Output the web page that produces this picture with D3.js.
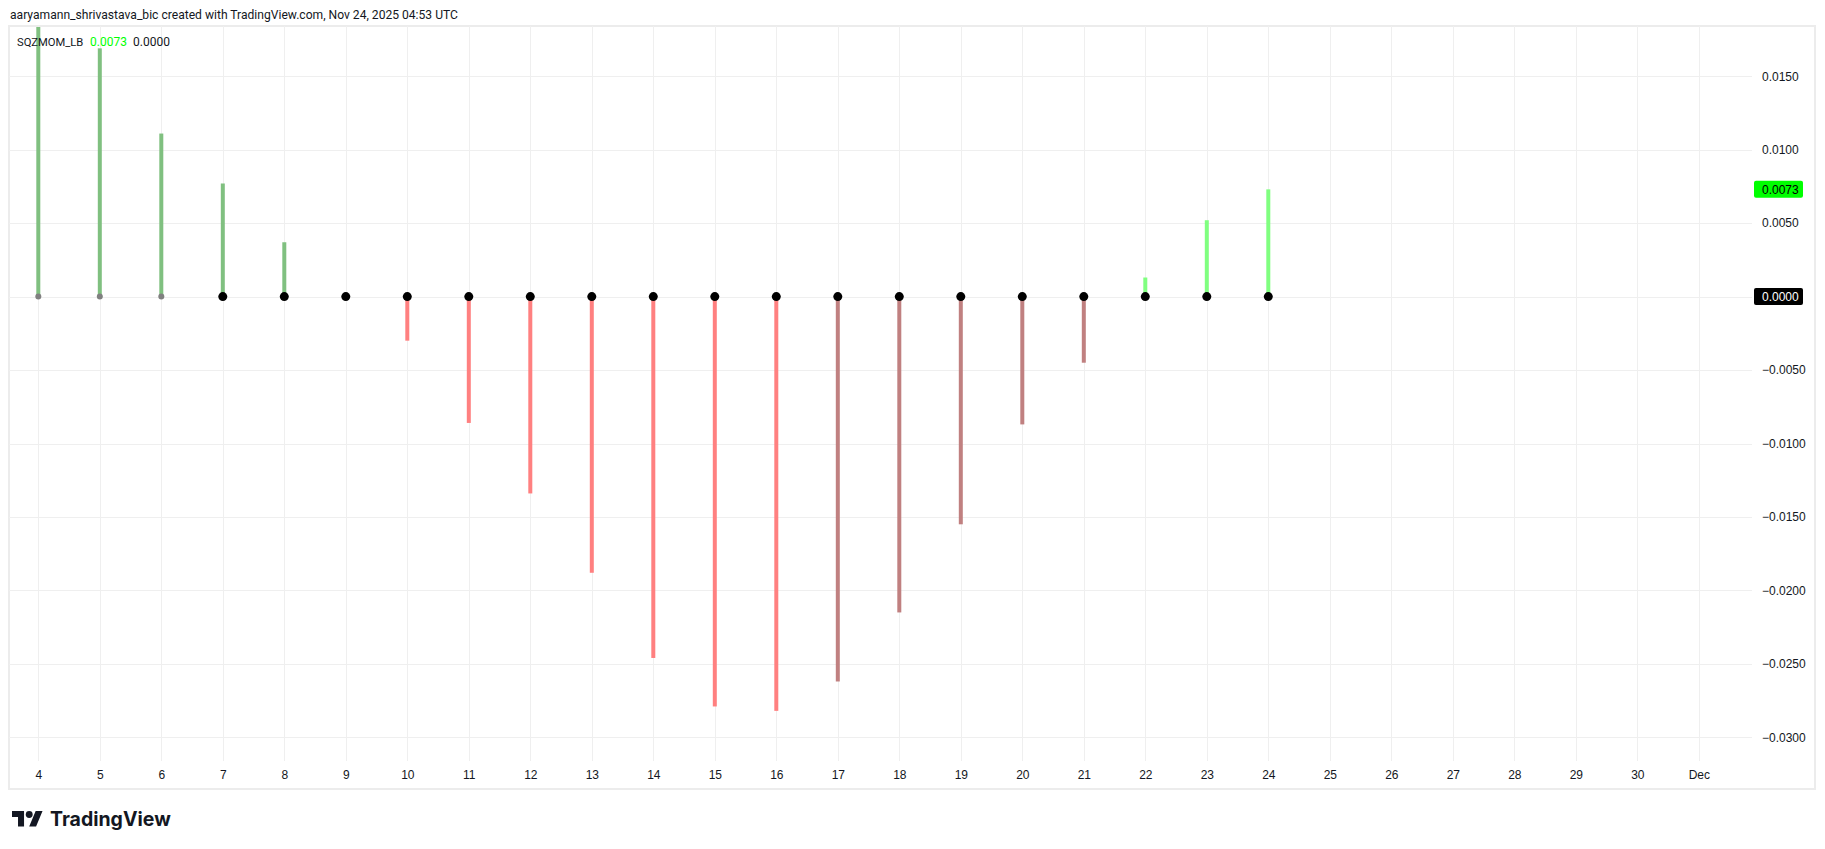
<!DOCTYPE html>
<html>
<head>
<meta charset="utf-8">
<script src="https://cdn.jsdelivr.net/npm/d3@7"></script>
<style>
  html, body { margin: 0; padding: 0; background: #ffffff; }
  svg { display: block; }
</style>
</head>
<body>
<svg id="chart" width="1825" height="849"></svg>
<script>
// ---- data ----
const dayLabels = ["4","5","6","7","8","9","10","11","12","13","14","15","16","17","18","19","20","21","22","23","24","25","26","27","28","29","30","Dec"];
const barDays   = ["4","5","6","7","8","9","10","11","12","13","14","15","16","17","18","19","20","21","22","23","24"];
const momentum  = [0.0188, 0.0169, 0.0111, 0.0077, 0.0037, 0.0000, -0.0030, -0.0086, -0.0134, -0.0188, -0.0246, -0.0279, -0.0282, -0.0262, -0.0215, -0.0155, -0.0087, -0.0045, 0.0013, 0.0052, 0.0073];
const barState  = ["green","green","green","green","green","red","red","red","red","red","red","red","red","maroon","maroon","maroon","maroon","maroon","lime","lime","lime"];
const sqzState  = ["off","off","off","on","on","on","on","on","on","on","on","on","on","on","on","on","on","on","on","on","on"];
const priceTicks = [0.015, 0.010, 0.005, 0.000, -0.005, -0.010, -0.015, -0.020, -0.025, -0.030];
const lastValue = 0.0073;
const zeroValue = 0.0000;
const headerText = "aaryamann_shrivastava_bic created with TradingView.com, Nov 24, 2025 04:53 UTC";
const indicatorName = "SQZMOM_LB";

// ---- styles ----
const barColors = { green: "#80c080", red: "#ff8080", maroon: "#c08080", lime: "#80ff80" };
const dotColors = { off: "#808080", on: "#000000" };
const dotRadius = { off: 3, on: 4.5 };
const gridColor = "#efefef";
const borderColor = "#ececec";
const textColor = "#131722";
const uiFont = "Roboto, 'Liberation Sans', sans-serif";
const axisFont = "'Liberation Sans', Arial, sans-serif";

// ---- layout ----
const pane = { left: 9, right: 1752, top: 26, bottom: 761 };
const frame = { left: 9, right: 1815, top: 26, bottom: 789 };

const svg = d3.select("#chart");

const x = d3.scalePoint().domain(dayLabels).range([38.3, 1698.8]);
const y = d3.scaleLinear().domain([-0.031613, 0.018421]).range([pane.bottom, pane.top]);

// header
svg.append("text")
  .attr("x", 10).attr("y", 19)
  .attr("font-family", uiFont).attr("font-size", 12.1)
  .attr("fill", textColor)
  .text(headerText);

// frame
svg.append("rect")
  .attr("x", frame.left).attr("y", frame.top)
  .attr("width", frame.right - frame.left).attr("height", frame.bottom - frame.top)
  .attr("fill", "none").attr("stroke", borderColor).attr("stroke-width", 2);

// gridlines
const grid = svg.append("g");
grid.selectAll("line.h").data(priceTicks).join("line")
  .attr("x1", pane.left).attr("x2", pane.right)
  .attr("y1", d => Math.round(y(d)) + 0.5).attr("y2", d => Math.round(y(d)) + 0.5)
  .attr("stroke", gridColor).attr("stroke-width", 1);
grid.selectAll("line.v").data(dayLabels).join("line")
  .attr("x1", d => Math.round(x(d)) + 0.5).attr("x2", d => Math.round(x(d)) + 0.5)
  .attr("y1", pane.top).attr("y2", pane.bottom)
  .attr("stroke", gridColor).attr("stroke-width", 1);

// clip for pane
svg.append("defs").append("clipPath").attr("id", "paneClip")
  .append("rect").attr("x", pane.left).attr("y", pane.top + 1)
  .attr("width", pane.right - pane.left).attr("height", pane.bottom - pane.top - 1);

const barsData = barDays.map((d, i) => ({ day: d, v: momentum[i], state: barState[i], sqz: sqzState[i] }));

const plot = svg.append("g").attr("clip-path", "url(#paneClip)");
plot.selectAll("rect.bar").data(barsData.filter(d => d.v !== 0)).join("rect")
  .attr("class", "bar")
  .attr("x", d => x(d.day) - 2)
  .attr("width", 4)
  .attr("y", d => Math.min(y(d.v), y(0)))
  .attr("height", d => Math.abs(y(d.v) - y(0)))
  .attr("fill", d => barColors[d.state]);

plot.selectAll("circle.dot").data(barsData).join("circle")
  .attr("class", "dot")
  .attr("cx", d => x(d.day))
  .attr("cy", y(0))
  .attr("r", d => dotRadius[d.sqz])
  .attr("fill", d => dotColors[d.sqz]);

// legend
const fmt = d3.format(".4f");
const legend = svg.append("g").attr("font-family", uiFont).attr("font-size", 12);
legend.append("text").attr("x", 17).attr("y", 46).attr("fill", textColor)
  .attr("font-size", 11.2).text(indicatorName);
legend.append("text").attr("x", 90).attr("y", 46).attr("fill", "#00ff00").text(fmt(lastValue));
legend.append("text").attr("x", 133).attr("y", 46).attr("fill", textColor).text(fmt(zeroValue));

// price axis
const yAxis = d3.axisRight(y)
  .tickValues(priceTicks.filter(d => d !== 0))
  .tickFormat(fmt)
  .tickSize(0).tickPadding(10);
const yG = svg.append("g").attr("transform", `translate(${pane.right},0)`).call(yAxis);
yG.select(".domain").remove();
yG.selectAll("text").attr("font-family", axisFont).attr("font-size", 12).attr("fill", textColor);

// time axis
const xAxis = d3.axisBottom(x).tickSize(0).tickPadding(9);
const xG = svg.append("g").attr("transform", `translate(0,${pane.bottom})`).call(xAxis);
xG.select(".domain").remove();
xG.selectAll("text").attr("font-family", axisFont).attr("font-size", 12).attr("fill", textColor);

// badges
const badges = [
  { v: lastValue, bg: "#00ff00", fg: "#000000" },
  { v: zeroValue, bg: "#000000", fg: "#ffffff" }
];
const bg = svg.append("g");
badges.forEach(b => {
  const cy = y(b.v);
  bg.append("rect").attr("x", 1754).attr("y", cy - 8.5).attr("width", 49).attr("height", 17)
    .attr("rx", 2).attr("fill", b.bg);
  bg.append("text").attr("x", 1762).attr("y", cy).attr("dy", "0.35em")
    .attr("font-family", axisFont).attr("font-size", 12).attr("fill", b.fg).text(fmt(b.v));
});

// TradingView logo
const logo = svg.append("g").attr("transform", "translate(12,807.6) scale(0.86)").attr("fill", "#131722");
logo.append("path").attr("d", "M14 22H7V11H0V4h14v18zM28 22h-8l7.5-18h8L28 22z");
logo.append("circle").attr("cx", 20).attr("cy", 8).attr("r", 4);
svg.append("text").attr("x", 50).attr("y", 826)
  .attr("font-family", "Inter, Roboto, sans-serif").attr("font-weight", 700).attr("font-size", 19.5)
  .attr("fill", "#131722").text("TradingView");
</script>
</body>
</html>
